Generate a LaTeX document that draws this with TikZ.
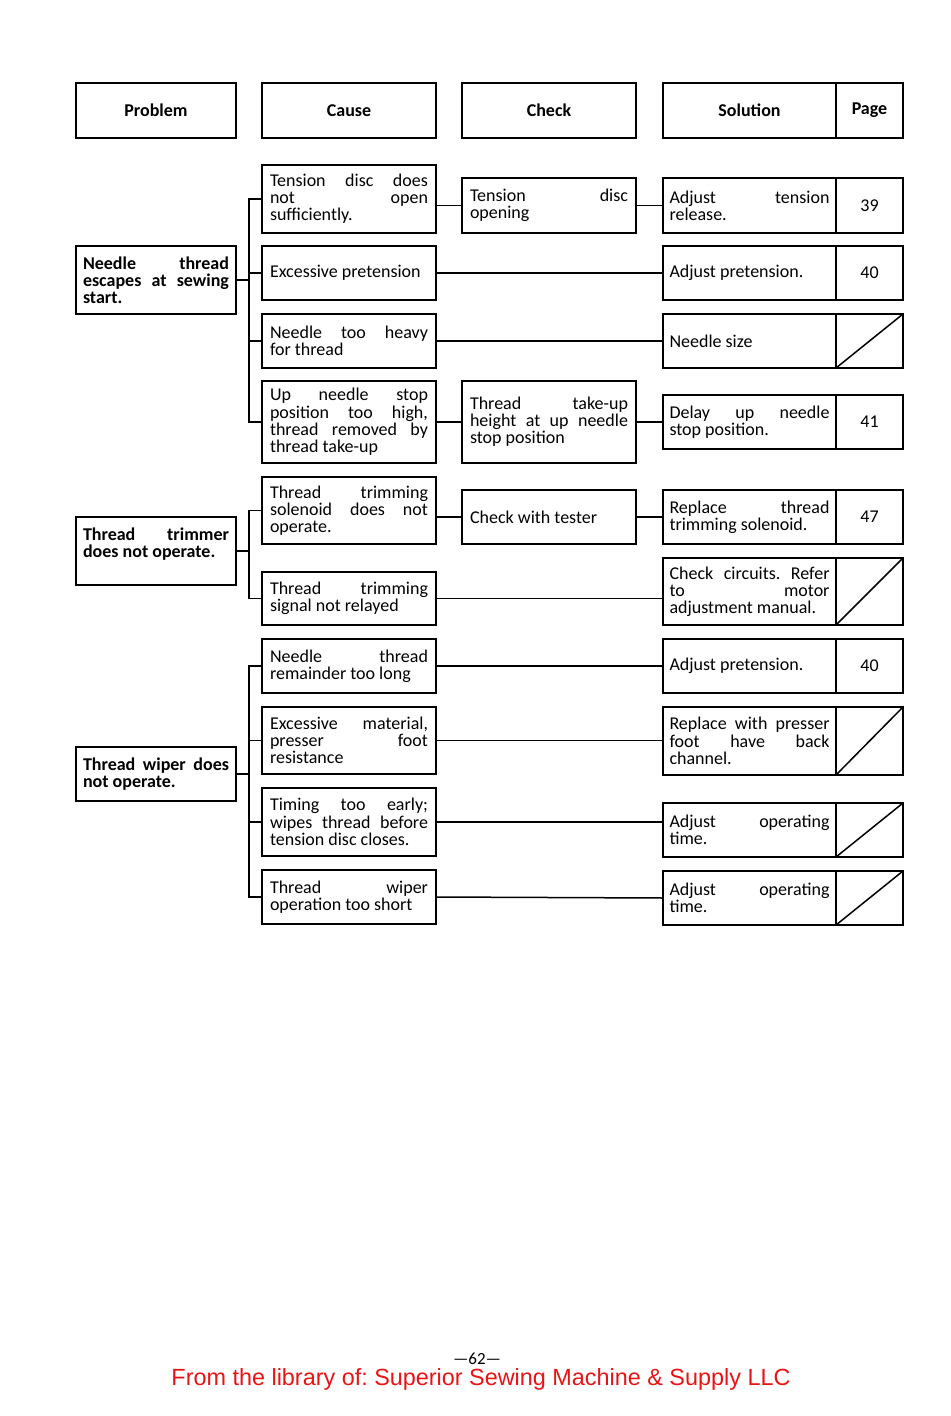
\documentclass[tikz,border=0pt]{standalone}
\usepackage{fontspec}
\setmainfont{Carlito}
\newfontfamily\libfont{Liberation Sans}
\usepackage{tikz}
\definecolor{libred}{RGB}{232,20,20}
\newcommand\boxfont{\fontsize{9}{8.6}\selectfont\lineskiplimit=-4pt\hyphenpenalty=10000\exhyphenpenalty=10000\relax}
\frenchspacing

\begin{document}
\begin{tikzpicture}[x=0.5pt,y=-0.5pt,
  box/.style={draw,line width=0.9pt,inner xsep=4pt,inner ysep=0pt,outer sep=0pt,align=justify,font=\boxfont},
  hdr/.style={draw,line width=0.9pt,inner sep=0pt,outer sep=0pt,minimum height=27.5pt,font=\boxfont\bfseries},
  prob/.style={box,text width=73pt,inner xsep=3.5pt,font=\boxfont\bfseries},
  cause/.style={box,text width=79pt},
  chk/.style={box,text width=79pt},
  sol/.style={box,text width=80pt,inner xsep=3.25pt},
  pg/.style={draw,line width=0.9pt,inner sep=0pt,outer sep=0pt,minimum width=33.5pt,font=\boxfont},
  link/.style={line width=0.75pt}]
  \useasboundingbox (0,0) rectangle (950,1416);

  \node[hdr,minimum width=80pt] (hprob) at (156,110.5) {Problem};
  \node[hdr,minimum width=87pt] (hcause) at (349,110.5) {Cause};
  \node[hdr,minimum width=87pt] (hchk) at (549,110.5) {Check};
  \node[hdr,minimum width=86.5pt] (hsol) at (749.5,110.5) {Solution};
  \node[hdr,minimum width=33.5pt] (hpg) at (869.5,110.5) {Page};

  \node[prob,minimum height=34pt] (p1) at (156,280) {Needle thread\linebreak escapes at sewing\linebreak start.};
  \node[cause,minimum height=34pt] (c1) at (349,199) {Tension disc does\linebreak not open\linebreak sufficiently.};
  \node[cause,minimum height=27pt] (c2) at (349,273) {Excessive pretension};
  \node[cause,minimum height=27pt] (c3) at (349,341) {Needle too heavy\linebreak for thread};
  \node[cause,minimum height=41pt] (c4) at (349,422) {Up needle stop\linebreak position too high,\linebreak thread removed by\linebreak thread take-up};
  \node[chk,minimum height=27.5pt] (k1) at (549,205.5) {Tension disc\linebreak opening};
  \node[chk,minimum height=41pt] (k4) at (549,422) {Thread take-up\linebreak height at up needle\linebreak stop position};
  \node[sol,minimum height=27.5pt] (s1) at (749.5,205.5) {Adjust tension\linebreak release.};
  \node[sol,minimum height=27pt] (s2) at (749.5,273) {Adjust pretension.};
  \node[sol,minimum height=27pt] (s3) at (749.5,341) {Needle size};
  \node[sol,minimum height=27pt] (s4) at (749.5,422) {Delay up needle\linebreak stop position.};
  \node[pg,minimum height=27.5pt] (g1) at (869.5,205.5) {39};
  \node[pg,minimum height=27pt] (g2) at (869.5,273) {40};
  \node[pg,minimum height=27pt] (g3) at (869.5,341) {};
  \node[pg,minimum height=27pt] (g4) at (869.5,422) {41};

  \node[prob,minimum height=34pt] (p2) at (156,551) {Thread trimmer\linebreak does not operate.\\ ~};
  \node[cause,minimum height=33.5pt] (c5) at (349,510.5) {Thread trimming\linebreak solenoid does not\linebreak operate.};
  \node[cause,minimum height=26.5pt] (c6) at (349,598.5) {Thread trimming\linebreak signal not relayed};
  \node[chk,minimum height=27pt] (k5) at (549,517) {Check with tester};
  \node[sol,minimum height=27pt] (s5) at (749.5,517) {Replace thread\linebreak trimming solenoid.};
  \node[sol,minimum height=33.5pt] (s6) at (749.5,591.5) {Check circuits. Refer\linebreak to motor\linebreak adjustment manual.};
  \node[pg,minimum height=27pt] (g5) at (869.5,517) {47};
  \node[pg,minimum height=33.5pt] (g6) at (869.5,591.5) {};

  \node[prob,minimum height=27pt] (p3) at (156,774) {Thread wiper does\linebreak not operate.};
  \node[cause,minimum height=27pt] (c7) at (349,666) {Needle thread\linebreak remainder too long};
  \node[cause,minimum height=33.5pt] (c8) at (349,740.5) {Excessive material,\linebreak presser foot\linebreak resistance};
  \node[cause,minimum height=34pt] (c9) at (349,822) {Timing too early;\linebreak wipes thread before\linebreak tension disc closes.};
  \node[cause,minimum height=27pt] (c10) at (349,897) {Thread wiper\linebreak operation too short};
  \node[sol,minimum height=27pt] (s7) at (749.5,666) {Adjust pretension.};
  \node[sol,minimum height=34pt] (s8) at (749.5,741) {Replace with presser\linebreak foot have back\linebreak channel.};
  \node[sol,minimum height=27pt] (s9) at (749.5,830) {Adjust operating\linebreak time.};
  \node[sol,minimum height=27pt] (s10) at (749.5,898) {Adjust operating\linebreak time.};
  \node[pg,minimum height=27pt] (g7) at (869.5,666) {40};
  \node[pg,minimum height=34pt] (g8) at (869.5,741) {};
  \node[pg,minimum height=27pt] (g9) at (869.5,830) {};
  \node[pg,minimum height=27pt] (g10) at (869.5,898) {};

  \draw[link] (g3.south west) -- (g3.north east);
  \draw[link] (g6.south west) -- (g6.north east);
  \draw[link] (g8.south west) -- (g8.north east);
  \draw[link] (g9.south west) -- (g9.north east);
  \draw[link] (g10.south west) -- (g10.north east);

  \coordinate (b) at (249,0);
  \draw[link] (p1.east) -- (p1.east -| b);
  \draw[link] (c1.west) -- (c1.west -| b) |- (c4.west);
  \draw[link] (c2.west) -- (c2.west -| b);
  \draw[link] (c3.west) -- (c3.west -| b);
  \draw[link] (k1.west -| c1.east) -- (k1.west);
  \draw[link] (k1.east) -- (s1.west);
  \draw[link] (c2.east) -- (s2.west);
  \draw[link] (c3.east) -- (s3.west);
  \draw[link] (c4.east) -- (k4.west);
  \draw[link] (k4.east) -- (s4.west);

  \draw[link] (p2.east) -- (p2.east -| b);
  \draw[link] (c5.west) -- (c5.west -| b) |- (c6.west);
  \draw[link] (k5.west -| c5.east) -- (k5.west);
  \draw[link] (k5.east) -- (s5.west);
  \draw[link] (c6.east) -- (c6.east -| s6.west);

  \draw[link] (p3.east) -- (p3.east -| b);
  \draw[link] (c7.west) -- (c7.west -| b) |- (c10.west);
  \draw[link] (c8.west) -- (c8.west -| b);
  \draw[link] (c9.west) -- (c9.west -| b);
  \draw[link] (c7.east) -- (s7.west);
  \draw[link] (c8.east) -- (c8.east -| s8.west);
  \draw[link] (c9.east) -- (c9.east -| s9.west);
  \draw[link] (c10.east) -- (s10.west);

  \node[font=\fontsize{8.5}{10}\selectfont] (pno) at (477,1359) {---62---};
  \node[font=\libfont\fontsize{11.7}{14}\selectfont,text=libred] (lib) at (481,1379) {From the library of: Superior Sewing Machine \& Supply LLC};
\end{tikzpicture}
\end{document}
